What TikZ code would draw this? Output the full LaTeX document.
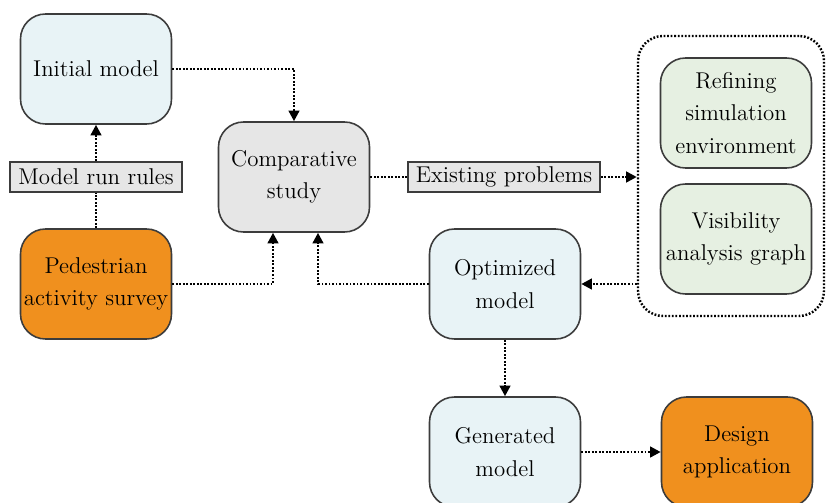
\documentclass[tikz,border=0pt]{standalone}
\usetikzlibrary{arrows.meta}
\definecolor{boxblue}{HTML}{E8F3F6}
\definecolor{boxgray}{HTML}{E6E6E6}
\definecolor{boxgreen}{HTML}{E6F0E2}
\definecolor{boxorange}{HTML}{F0901E}
\definecolor{edge}{HTML}{3C3C3C}
\tikzset{
  stage/.style={draw=edge, line width=0.9pt, rounded corners=0.5cm, align=center,
    minimum width=3.02cm, minimum height=2.2cm, inner sep=1pt,
    font=\fontsize{13}{18.5}\selectfont},
  tag/.style={draw=edge, line width=0.9pt, fill=boxgray, minimum height=0.6cm,
    inner sep=2pt, font=\fontsize{13}{15}\selectfont},
  link/.style={line width=1.4pt, dash pattern=on 1pt off 1pt, black},
  flow/.style={link, -{Triangle[length=6pt,width=6pt]}},
}
\begin{document}
\begin{tikzpicture}
  \path[use as bounding box, clip] (0,0) rectangle (16.52,10.04);
  \draw
    (1.92,8.66) node[stage, fill=boxblue] (init){Initial model}
    (1.92,6.50) node[tag, minimum width=3.44cm] (rules){Model run rules}
    (1.92,4.36) node[stage, fill=boxorange] (survey){Pedestrian\\activity survey}
    (5.88,6.50) node[stage, fill=boxgray] (comp){Comparative\\study}
    (10.08,6.50) node[tag, minimum width=3.84cm] (probs){Existing problems}
    (14.62,6.52) node[draw, link, rounded corners=0.5cm, minimum width=3.72cm,
      minimum height=5.6cm] (group){}
    (14.72,7.78) node[stage, fill=boxgreen] (refine){Refining\\simulation\\environment}
    (14.72,5.26) node[stage, fill=boxgreen] (vis){Visibility\\analysis graph}
    (10.10,4.36) node[stage, fill=boxblue] (opt){Optimized\\model}
    (10.10,1.00) node[stage, fill=boxblue] (gen){Generated\\model}
    (14.74,1.00) node[stage, fill=boxorange] (design){Design\\application};
  \begin{scope}[flow]
    \draw (init.east) -| (comp.north);
    \draw[-] (survey.north) -- (rules.south);
    \draw (rules.north) -- (init.south);
    \draw (survey.east) -| ([xshift=-0.42cm]comp.south);
    \draw (opt.west) -| ([xshift=0.48cm]comp.south);
    \draw[-] (comp.east) -- (probs.west);
    \draw (probs.east) -- (probs.east -| group.west);
    \draw (group.west |- opt.east) -- (opt.east);
    \draw (opt.south) -- (gen.north);
    \draw (gen.east) -- (design.west);
  \end{scope}
\end{tikzpicture}
\end{document}
